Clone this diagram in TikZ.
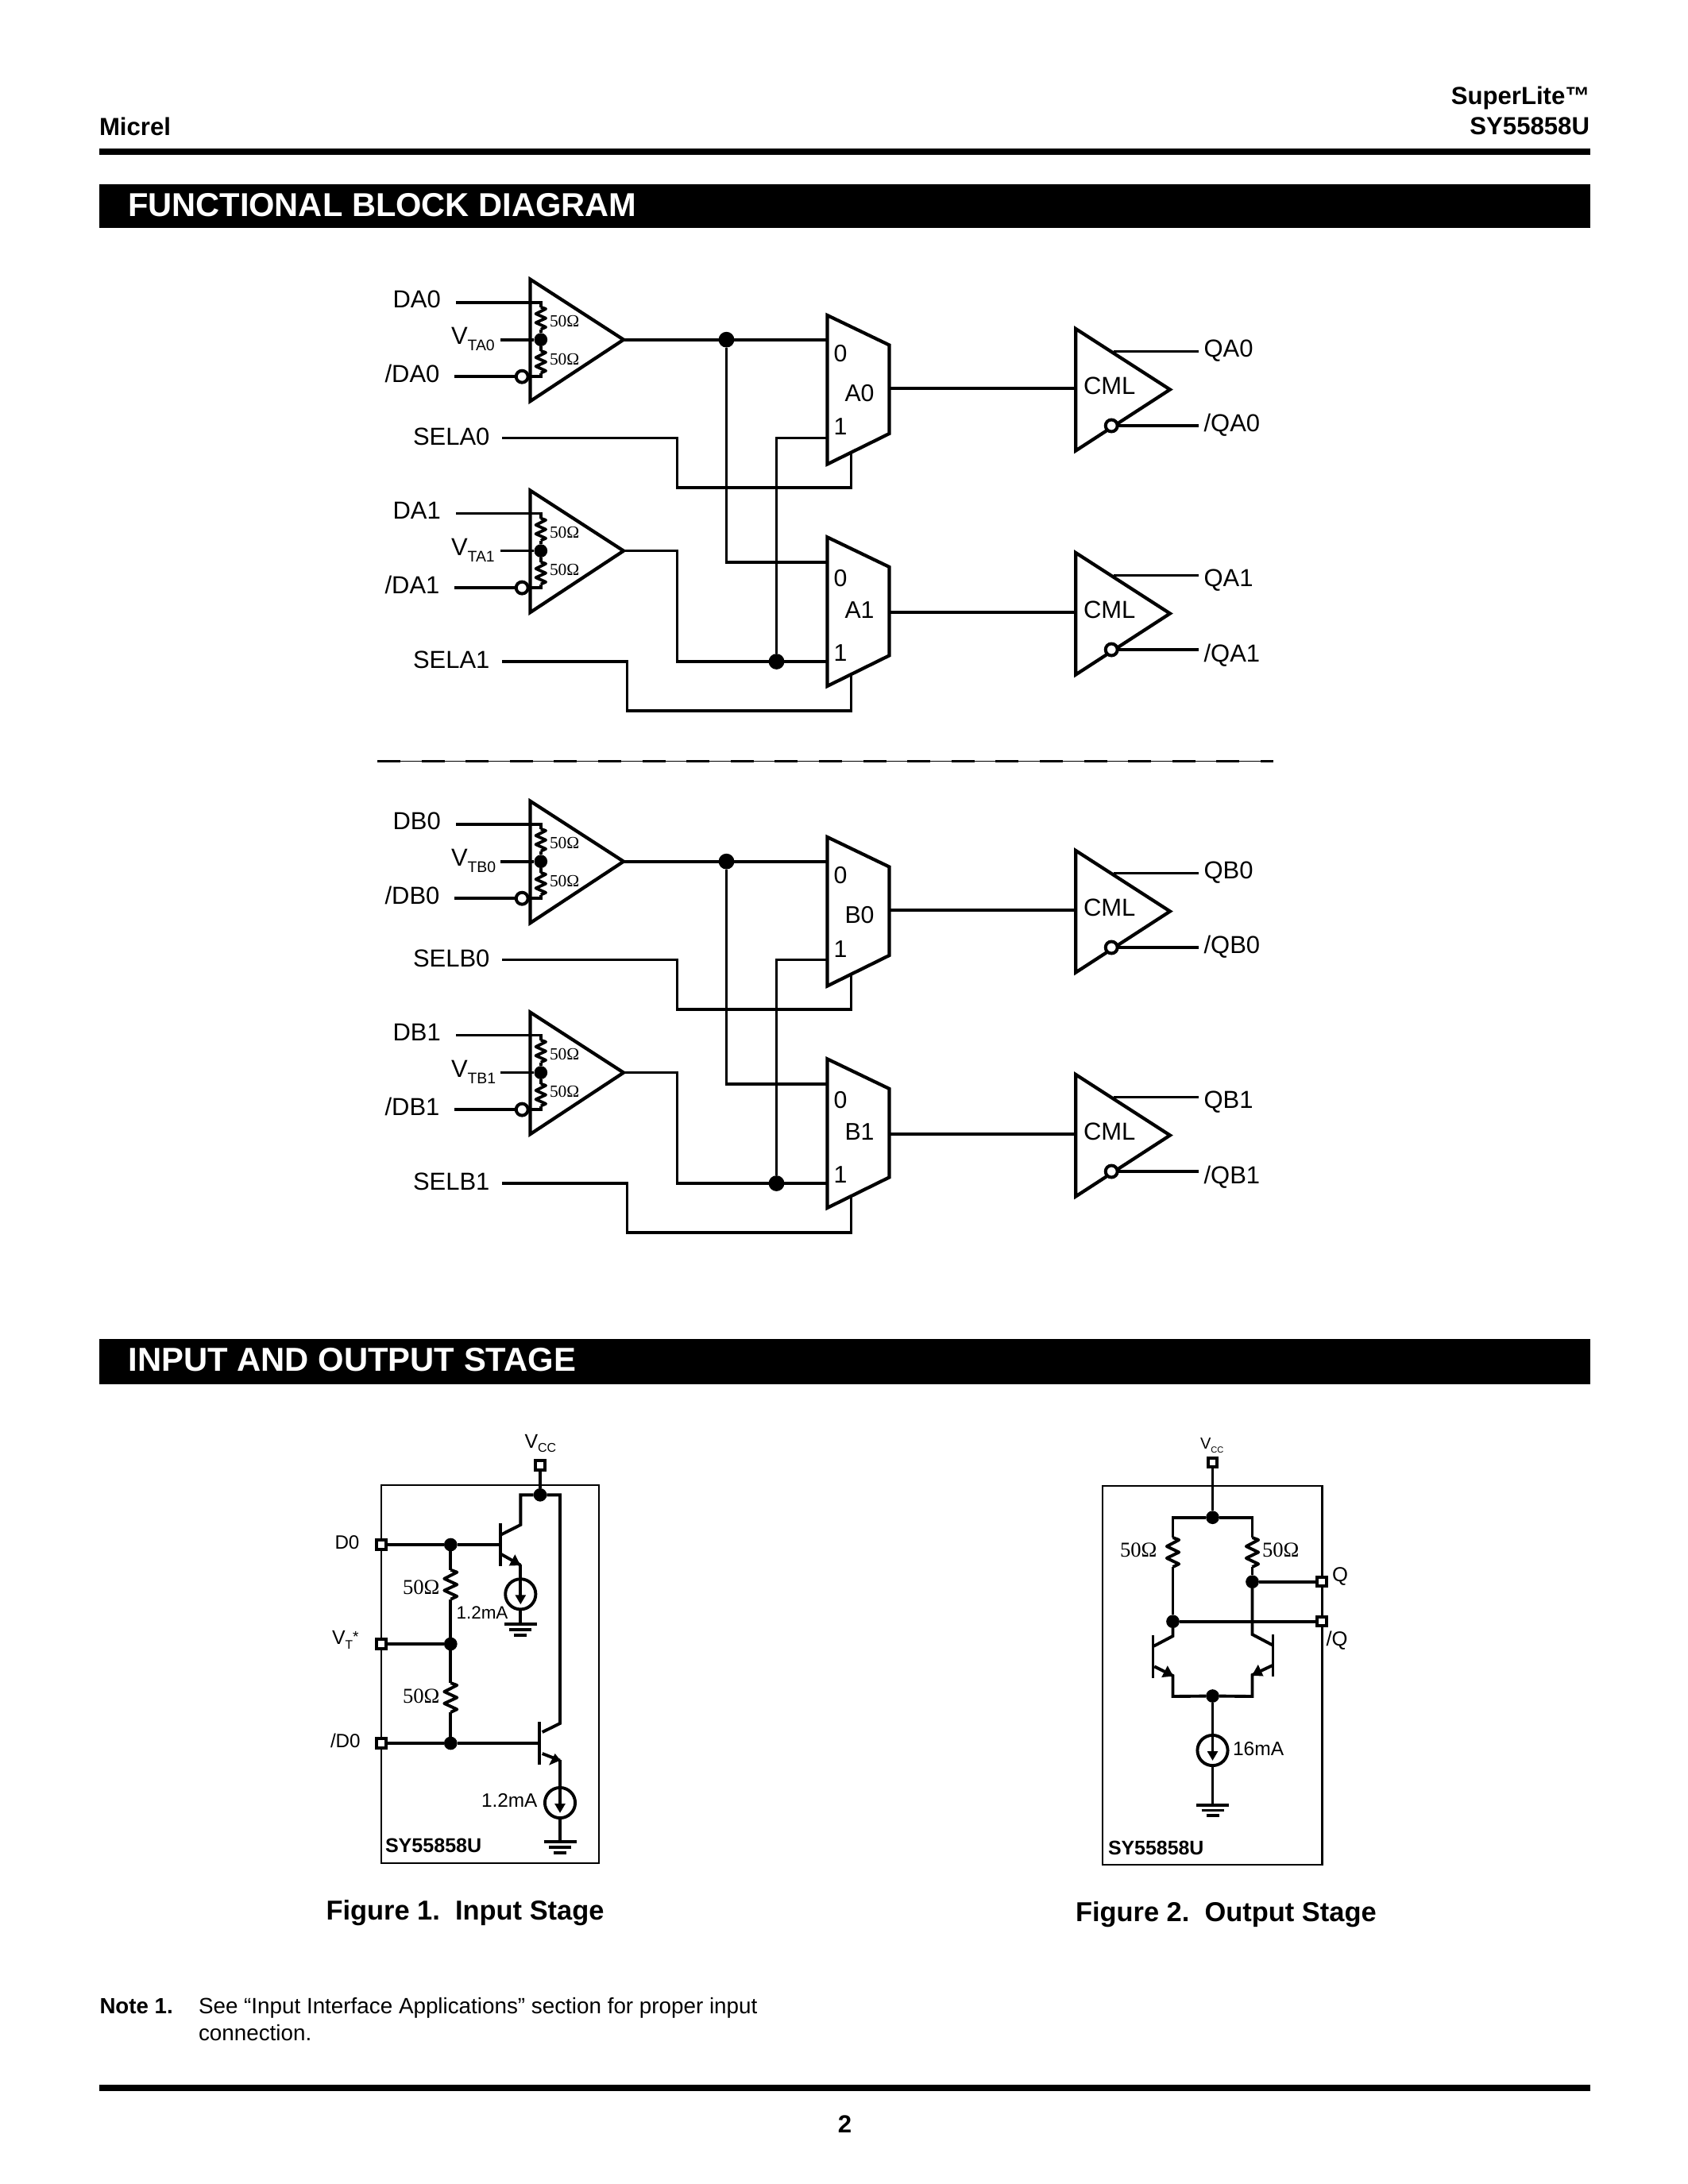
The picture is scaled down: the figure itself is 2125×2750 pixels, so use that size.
\documentclass[tikz,border=0pt]{standalone}
\usepackage{fontspec}
\setmainfont{Liberation Sans}
\newfontfamily\serifn{Liberation Serif}
\newcommand\fzs[1]{\fontsize{#1}{#1}\selectfont}
\tikzset{
  wire/.style={line width=1.08bp,line cap=butt,line join=miter},
  tri/.style={line width=1.22bp,line join=miter},
  fwire/.style={line width=1.12bp,line join=miter},
  thinbox/.style={line width=0.6bp},
  tx/.style={anchor=base west,inner sep=0pt,outer sep=0pt,font=\fzs{#1}},
  txb/.style={anchor=base west,inner sep=0pt,outer sep=0pt,font=\bfseries\fzs{#1}},
  txr/.style={anchor=base east,inner sep=0pt,outer sep=0pt,font=\bfseries\fzs{#1}},
  ohm/.style={anchor=base west,inner sep=0pt,outer sep=0pt,font=\serifn\fzs{#1}},
  dotn/.style={circle,fill=black,inner sep=0pt,outer sep=0pt,minimum size=#1},
  bubble/.style={circle,draw=black,fill=white,line width=1.15bp,inner sep=0pt,outer sep=0pt,minimum size=4.3bp},
  padn/.style={rectangle,draw=black,fill=white,line width=1.15bp,inner sep=0pt,outer sep=0.5pt,minimum size=3.3bp},
  srcn/.style={circle,draw=black,line width=1.12bp,inner sep=0pt,outer sep=0pt,minimum size=11bp},
}
% resistor: style, x, ytop, height, half width
\newcommand\zigres[5]{\draw[#1,line join=round] (#2,#3) -- (#2+#5,#3+0.08*#4) -- (#2-#5,#3+0.30*#4) -- (#2+#5,#3+0.50*#4) -- (#2-#5,#3+0.70*#4) -- (#2+#5,#3+0.90*#4) -- (#2,#3+#4);}
% current source: name, x, centre y
\newcommand\isrc[3]{\node[srcn] (#1) at (#2,#3) {};
  \draw[fwire] (#1.north) -- (#2,#3+2);
  \fill (#2,#3+12.7) -- (#2-6.9,#3+1) -- (#2+6.9,#3+1) -- cycle;}
% ground: name, x, y
\newcommand\gndsym[3]{\coordinate (#1) at (#2,#3);
  \draw[fwire] (#2-20.5,#3) -- (#2+20.5,#3);
  \draw[fwire] (#2-14,#3+6.8) -- (#2+14,#3+6.8);
  \draw[fwire] (#2-8,#3+13.6) -- (#2+8,#3+13.6);}
% differential input: letter, digit, tip y
\newcommand\ampstage[3]{%
  \coordinate (amp#1#2T) at (666,#3-76);
  \coordinate (amp#1#2B) at (666,#3+77.5);
  \coordinate (amp#1#2O) at (783.5,#3);
  \coordinate (amp#1#2a) at (572.5,#3-47);
  \coordinate (amp#1#2ac) at (679.3,#3-47);
  \coordinate (amp#1#2vs) at (628.5,#3);
  \coordinate (amp#1#2bs) at (570.5,#3+46.5);
  \coordinate (amp#1#2bc) at (679.3,#3+46.5);
  \draw[tri] (amp#1#2T) -- (amp#1#2B) -- (amp#1#2O) -- cycle;
  \node[dotn=4.8bp] (amp#1#2mid) at (679.3,#3) {};
  \draw[wire] (amp#1#2a) -- (amp#1#2ac) -- (679.3,#3-41);
  \zigres{wire}{679.3}{#3-41}{28}{6.3}
  \draw[wire] (679.3,#3-13) -- (amp#1#2mid);
  \draw[wire] (amp#1#2vs) -- (amp#1#2mid);
  \draw[wire] (amp#1#2mid) -- (679.3,#3+14);
  \zigres{wire}{679.3}{#3+14}{28}{6.3}
  \node[bubble] (amp#1#2inv) at (655.7,#3+46.5) {};
  \draw[wire] (amp#1#2bs) -- (amp#1#2inv);
  \draw[wire] (amp#1#2inv) -- (amp#1#2bc) -- (679.3,#3+42);
  \node[tx=8.95] (lD#1#2) at (493,#3-40) {D#1#2};
  \node[tx=8.95] (lN#1#2) at (483.1,#3+53.4) {/D#1#2};
  \node[tx=8.95] (lV#1#2) at (566.5,#3+5.5) {V\raisebox{-2.5bp}{\fzs{5.6}T#1#2}};
  \node[ohm=6.2] (rA#1#2) at (690.5,#3-16) {50Ω};
  \node[ohm=6.2] (rB#1#2) at (690.5,#3+31.3) {50Ω};
}
% mux: letter, digit, top y, in0 y, in1 y, baseline 0, baseline name, baseline 1
\newcommand\muxstage[8]{%
  \coordinate (mux#1#2i0) at (1040,#4);
  \coordinate (mux#1#2i1) at (1040,#5);
  \coordinate (mux#1#2s) at (1070,#3+172.7);
  \draw[tri] (1040,#3) -- (1118,#3+37.5) -- (1118,#3+149) -- (1040,#3+187.5) -- cycle;
  \node[tx=8.75] (m0#1#2) at (1048,#6) {0};
  \node[tx=8.75] (mn#1#2) at (1062,#7) {#1#2};
  \node[tx=8.75] (m1#1#2) at (1048,#8) {1};
}
% CML output: letter, digit, wire y, Q baseline offset, /Q baseline offset
\newcommand\cmlstage[5]{%
  \coordinate (cml#1#2T) at (1352.7,#3-75);
  \coordinate (cml#1#2B) at (1352.7,#3+78.5);
  \coordinate (cml#1#2O) at (1471.4,#3+1.5);
  \coordinate (cml#1#2I) at (1352.7,#3);
  \coordinate (mo#1#2) at (1118,#3);
  \coordinate (cq#1#2a) at (1400,#3-46.5);
  \coordinate (cq#1#2b) at (1507,#3-46.5);
  \coordinate (cn#1#2b) at (1507,#3+47);
  \draw[tri] (cml#1#2T) -- (cml#1#2B) -- (cml#1#2O) -- cycle;
  \draw[wire] (mo#1#2) -- (cml#1#2I);
  \draw[wire] (cq#1#2a) -- (cq#1#2b);
  \node[bubble] (cml#1#2inv) at (1397.7,#3+47) {};
  \draw[wire] (cml#1#2inv) -- (cn#1#2b);
  \node[tx=8.95] (lc#1#2) at (1362.5,#3+7.8) {CML};
  \node[tx=8.95] (lq#1#2) at (1514.1,#3+#4) {Q#1#2};
  \node[tx=8.95] (ln#1#2) at (1514.1,#3+#5) {/Q#1#2};
}
\newcommand\channel[2]{%
\begin{scope}[shift={(1.5,#2)}]
  \ampstage{#1}{0}{427.7}
  \ampstage{#1}{1}{693.6}
  \muxstage{#1}{0}{397}{427.7}{551.6}{455.5}{505}{548}
  \muxstage{#1}{1}{676.4}{707.7}{833}{738.7}{778.5}{832}
  \cmlstage{#1}{0}{489}{-39.4}{54.6}
  \cmlstage{#1}{1}{771}{-33}{62}
  \node[dotn=5.7bp] (j#1a) at (913,427.7) {};
  \node[dotn=5.7bp] (j#1b) at (976,833) {};
  \draw[wire] (amp#10O) -- (j#1a);
  \draw[wire] (j#1a) -- (mux#10i0);
  \draw[wire] (j#1a) -- (913,707.7) -- (mux#11i0);
  \draw[wire] (amp#11O) -- (851,693.6) -- (851,833) -- (j#1b);
  \draw[wire] (j#1b) -- (mux#11i1);
  \draw[wire] (j#1b) -- (976,551.6) -- (mux#10i1);
  \coordinate (sel#10) at (630.5,551.6);
  \coordinate (sel#11) at (630.5,833);
  \draw[wire] (sel#10) -- (851,551.6) -- (851,614) -- (1070,614) -- (mux#10s);
  \draw[wire] (sel#11) -- (788,833) -- (788,895) -- (1070,895) -- (mux#11s);
  \node[tx=8.95] (ls#10) at (518.5,560) {SEL#10};
  \node[tx=8.95] (ls#11) at (518.5,841) {SEL#11};
\end{scope}}
\begin{document}
\begin{tikzpicture}[x=0.288bp,y=-0.288bp]
\useasboundingbox (0,0) rectangle (2125,2750);
% header
\node[txb=9] (hMicrel) at (125,170.7) {Micrel};
\node[txr=9] (hSuper) at (2001.5,131.7) {SuperLite™};
\node[txr=9] (hPart) at (2001,170) {SY55858U};
\fill (125,187) rectangle (2002,195);
\fill (125,231.7) rectangle (2002,286.7);
\node[txb=12.03,text=white] (hFbd) at (161,273) {FUNCTIONAL BLOCK DIAGRAM};
% block diagram
\channel{A}{0}
\coordinate (dashL) at (475,958.3);
\coordinate (dashR) at (1603,958.3);
\draw[line width=0.33bp] (dashL) -- (dashR);
\draw[line width=0.95bp,dash pattern=on 8.35bp off 7.66bp] (dashL) -- (dashR);
\channel{B}{657}
% section 2
\fill (125,1686) rectangle (2002,1742.7);
\node[txb=12.08,text=white] (hIo) at (161.5,1726.7) {INPUT AND OUTPUT STAGE};
% Figure 1
\begin{scope}[shift={(1,0)}]
\draw[thinbox] (479,1870) rectangle (752.7,2345.7);
\node[padn] (pVa) at (679,1845) {};
\node[padn] (pD) at (479,1945) {};
\node[padn] (pVt) at (479,2070) {};
\node[padn] (pN) at (479,2195) {};
\node[dotn=4.8bp] (jVa) at (679,1882.3) {};
\node[dotn=4.8bp] (jD) at (566.3,1945) {};
\node[dotn=4.8bp] (jVt) at (566.3,2070) {};
\node[dotn=4.8bp] (jN) at (566.3,2195) {};
\draw[fwire] (pVa) -- (jVa);
\draw[fwire] (pD) -- (jD) -- (629,1945);
\draw[fwire] (pVt) -- (jVt);
\draw[fwire] (pN) -- (jN) -- (678,2195);
\draw[fwire] (jD) -- (566.3,1976.7);
\zigres{fwire}{566.3}{1976.7}{37}{8}
\draw[fwire] (566.3,2013.7) -- (jVt);
\draw[fwire] (jVt) -- (566.3,2119);
\zigres{fwire}{566.3}{2119}{37}{8}
\draw[fwire] (566.3,2156) -- (jN);
% upper transistor
\draw[fwire] (jVa) -- (654.3,1882.3) -- (654.3,1920) -- (630,1932.3);
\draw[fwire] (629,1918) -- (629,1971.7);
\draw[fwire] (630,1957) -- (654.3,1970.7);
\fill (654.3,1971) -- (639.7,1971.5) -- (647.3,1957.3) -- cycle;
\isrc{sA}{654.3}{2007.3}
\draw[fwire] (654.3,1970) -- (sA.north);
\gndsym{gA}{654.3}{2045}
\draw[fwire] (sA.south) -- (gA);
% lower transistor
\draw[fwire] (jVa) -- (704,1882.3) -- (704,2170) -- (681.7,2181);
\draw[fwire] (678,2168) -- (678,2222);
\draw[fwire] (681.7,2208) -- (704,2216.7);
\fill (704.5,2216.5) -- (690,2222.7) -- (697.7,2208) -- cycle;
\isrc{sB}{704}{2270}
\draw[fwire] (704,2216) -- (sB.north);
\gndsym{gB}{704}{2319}
\draw[fwire] (sB.south) -- (gB);
\end{scope}
% Figure 1 labels
\node[tx=7.2] (lVa) at (660.5,1823) {V\raisebox{-1.7bp}{\fzs{4.6}CC}};
\node[tx=7] (lD) at (421.5,1950.7) {D0};
\node[tx=7.2] (lVt) at (418,2070) {V\raisebox{-1.8bp}{\fzs{4.5}T}\raisebox{0.6bp}{\fzs{5.5}*}};
\node[tx=7] (lN) at (416,2200.7) {/D0};
\node[ohm=7.7] (rA) at (507,2007.3) {50Ω};
\node[ohm=7.7] (rB) at (507,2144.3) {50Ω};
\node[tx=6.5] (iA) at (574.5,2038.3) {1.2mA};
\node[tx=7.05] (iB) at (606,2275.3) {1.2mA};
\node[txb=7.25] (pA) at (485,2332.3) {SY55858U};
\node[txb=9.95] (capA) at (410.5,2417.7) {Figure 1.\hspace{0.556em}Input Stage};
% Figure 2
\begin{scope}[shift={(1.5,0)}]
\draw[thinbox] (1386.7,1871) rectangle (1663,2347.7);
\node[padn] (pVb) at (1525,1841.7) {};
\node[padn] (pQ) at (1662.7,1991.7) {};
\node[padn] (pNq) at (1662.7,2041.7) {};
\node[dotn=4.8bp] (jVb) at (1525,1910.7) {};
\node[dotn=4.8bp] (jQ) at (1575,1991.7) {};
\node[dotn=4.8bp] (jNq) at (1475,2041.7) {};
\node[dotn=4.8bp] (jE) at (1525,2135.5) {};
\draw[fwire] (pVb) -- (jVb);
\draw[fwire] (jVb) -- (1475,1910.7) -- (1475,1936);
\draw[fwire] (jVb) -- (1575,1910.7) -- (1575,1936);
\zigres{fwire}{1475}{1936}{37}{7.7}
\zigres{fwire}{1575}{1936}{37}{7.7}
\draw[fwire] (1475,1973) -- (jNq);
\draw[fwire] (1575,1973) -- (jQ);
\draw[fwire] (jQ) -- (pQ);
\draw[fwire] (jNq) -- (pNq);
\draw[fwire] (jNq) -- (1475,2060) -- (1451,2072.7);
\draw[fwire] (jQ) -- (1575,2058) -- (1601,2071.7);
\draw[fwire] (1450,2059) -- (1450,2112.7);
\draw[fwire] (1601,2058) -- (1601,2110.7);
\draw[fwire] (1451.7,2098.3) -- (1475,2110) -- (1475,2136) -- (jE);
\draw[fwire] (1601,2096.7) -- (1575,2109) -- (1575,2136) -- (jE);
\fill (1475.5,2110.5) -- (1460.7,2112) -- (1468.3,2097.3) -- cycle;
\fill (1574.5,2109.8) -- (1589,2110.5) -- (1582.3,2096) -- cycle;
\isrc{sC}{1525}{2204}
\draw[fwire] (jE) -- (sC.north);
\gndsym{gC}{1525}{2272.7}
\draw[fwire] (sC.south) -- (gC);
\end{scope}
% Figure 2 labels
\node[tx=5.8] (lVb) at (1511,1824.7) {V\raisebox{-1.5bp}{\fzs{3.2}CC}};
\node[ohm=7.7] (rC) at (1410,1960.7) {50Ω};
\node[ohm=7.7] (rD) at (1589,1960.7) {50Ω};
\node[tx=7.4] (lQ) at (1677,1991.7) {Q};
\node[tx=7.4] (lNq) at (1669.5,2072.7) {/Q};
\node[tx=7.1] (iC) at (1552,2210.7) {16mA};
\node[txb=7.2] (pB) at (1395,2335.7) {SY55858U};
\node[txb=9.95] (capB) at (1354,2419) {Figure 2.\hspace{0.556em}Output Stage};
% note and footer
\node[txb=8] (nT) at (125.5,2535.5) {Note 1.};
\node[tx=8.04] (nA) at (250,2535.5) {See “Input Interface Applications” section for proper input};
\node[tx=8.04] (nB) at (250,2569) {connection.};
\fill (125,2625) rectangle (2002,2632.7);
\node[txb=9,anchor=base] (pg) at (1063.5,2685) {2};
\end{tikzpicture}
\end{document}
